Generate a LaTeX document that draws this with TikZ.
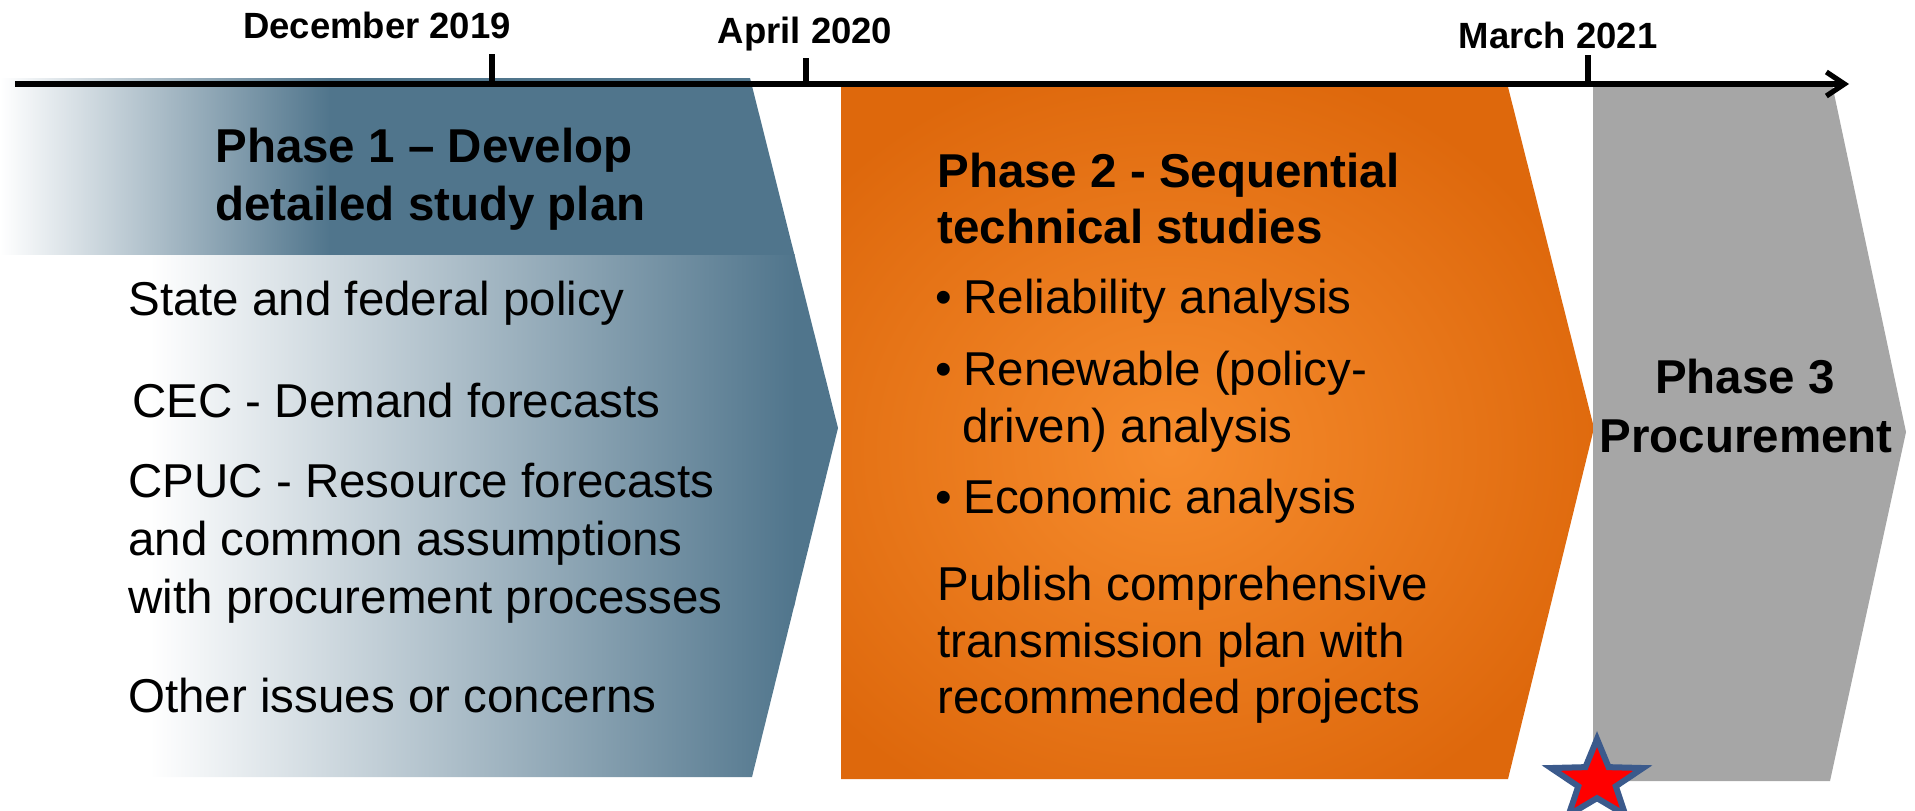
\documentclass[tikz,border=0pt]{standalone}
\usepackage{fontspec}
\setmainfont{Liberation Sans}
\usetikzlibrary{arrows.meta,shapes.geometric}
\definecolor{pblue}{RGB}{80,117,140}
\definecolor{porangeC}{RGB}{246,140,45}
\definecolor{porangeE}{RGB}{222,104,12}
\definecolor{pgray}{RGB}{166,166,166}
\definecolor{starred}{RGB}{255,0,0}
\definecolor{starblue}{RGB}{59,90,140}
\begin{document}
\begin{tikzpicture}[x=0.5pt,y=-0.5pt,
  txt/.style={font=\fontsize{23.75pt}{28.5pt}\selectfont, inner sep=0pt, anchor=base west},
  txtb/.style={font=\fontsize{23.75pt}{28.5pt}\selectfont\bfseries, inner sep=0pt, anchor=base west},
  txtc/.style={font=\fontsize{23.75pt}{28.5pt}\selectfont\bfseries, inner sep=0pt, anchor=base},
  datelbl/.style={font=\fontsize{18.25pt}{22pt}\selectfont\bfseries, inner sep=0pt, anchor=base},
  tickline/.style={line width=3.3pt},
  axisline/.style={line width=2.6pt, -{Straight Barb[length=9pt,width=12pt,line width=2.6pt]}},
  starmark/.style={star, star points=5, star point ratio=2.45, minimum size=42pt, inner sep=0pt,
     fill=starred, draw=starblue, line width=3pt, xscale=1.15, transform shape}
]
\useasboundingbox (0,0) rectangle (1915,810);

% ---------- Phase 1 shape ----------
\begin{scope}
\clip (0,78) -- (750,78) -- (838,428) -- (752,777) -- (0,777) -- cycle;
\fill[white] (0,254) rectangle (150,777);
\shade[left color=white, right color=pblue] (150,254) rectangle (795,777);
\fill[pblue] (794,254) rectangle (845,777);
\shade[left color=white, right color=pblue] (0,78) rectangle (330,254.5);
\fill[pblue] (329,78) rectangle (845,254.5);
\end{scope}

% ---------- Phase 2 shape ----------
\begin{scope}
\clip (841,87) -- (1508,87) -- (1594,428) -- (1508,779) -- (841,779) -- cycle;
\shade[inner color=porangeC, outer color=porangeE] (720,50) rectangle (1620,850);
\end{scope}

% ---------- Phase 3 shape ----------
\fill[pgray] (1593,84) -- (1832,84) -- (1906,432) -- (1830,781) -- (1593,781) -- cycle;

% ---------- Timeline ----------
\coordinate (axs) at (15,84);
\coordinate (axe) at (1849,84);
\draw[axisline] (axs) -- (axe);
\coordinate (tdec) at (492,84);  \coordinate (tdecT) at (492,54);
\coordinate (tapr) at (806,84);  \coordinate (taprT) at (806,58);
\coordinate (tmar) at (1588,84); \coordinate (tmarT) at (1588,55);
\draw[tickline] (tdec) -- (tdecT);
\draw[tickline] (tapr) -- (taprT);
\draw[tickline] (tmar) -- (tmarT);
\node[datelbl] (ldec) at (377,38) {December 2019};
\node[datelbl] (lapr) at (805,43) {April 2020};
\node[datelbl] (lmar) at (1558,48) {March 2021};

% ---------- Phase 1 text ----------
\node[txtb] (p1t1) at (215,162) {Phase 1 – Develop};
\node[txtb] (p1t2) at (215,220) {detailed study plan};
\node[txt] (p1a) at (128,315) {State and federal policy};
\node[txt] (p1b) at (132,417) {CEC - Demand forecasts};
\node[txt] (p1c) at (128,497) {CPUC - Resource forecasts};
\node[txt] (p1d) at (128,555) {and common assumptions};
\node[txt] (p1e) at (128,613) {with procurement processes};
\node[txt] (p1f) at (128,712) {Other issues or concerns};

% ---------- Phase 2 text ----------
\node[txtb] (p2t1) at (937,187) {Phase 2 - Sequential};
\node[txtb] (p2t2) at (937,243) {technical studies};
\node[txt] (b1) at (935,313) {•};
\node[txt] (p2a) at (963,313) {Reliability analysis};
\node[txt] (b2) at (935,385) {•};
\node[txt] (p2b) at (963,385) {Renewable (policy-};
\node[txt] (p2c) at (962,442) {driven) analysis};
\node[txt] (b3) at (935,513) {•};
\node[txt] (p2d) at (963,513) {Economic analysis};
\node[txt] (p2e) at (937,600) {Publish comprehensive};
\node[txt] (p2f) at (937,657) {transmission plan with};
\node[txt] (p2g) at (937,713) {recommended projects};

% ---------- Phase 3 text ----------
\node[txtc] (p3t1) at (1745,393) {Phase 3};
\node[txtc] (p3t2) at (1746,452) {Procurement};

% ---------- Star ----------
\node[starmark] (star) at (1597,781) {};
\end{tikzpicture}
\end{document}
